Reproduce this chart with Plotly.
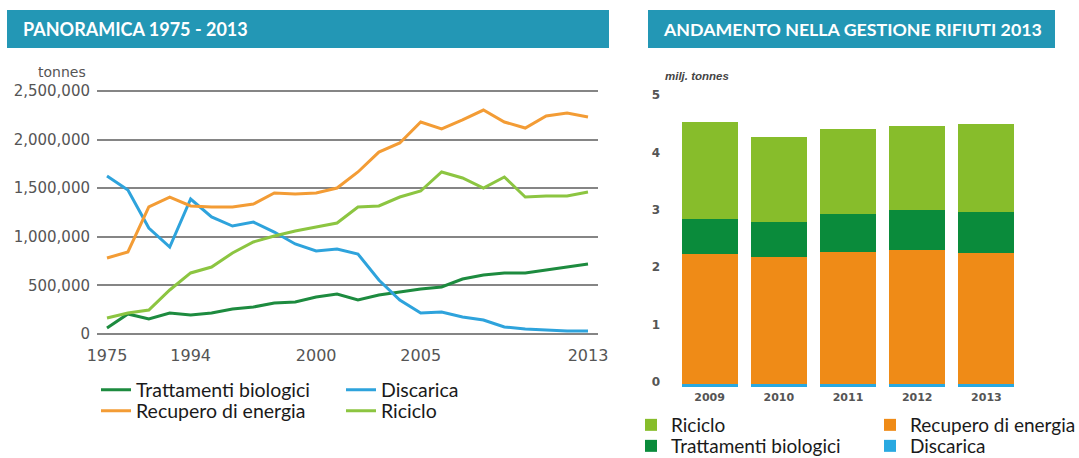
import plotly.graph_objects as go

W, H = 1079, 458

# ---------------- data: left chart (tonnes) ----------------
years = ["1975", "1980", "1985", "1990", "1994", "1995", "1996", "1997", "1998",
         "1999", "2000", "2001", "2002", "2003", "2004", "2005", "2006", "2007",
         "2008", "2009", "2010", "2011", "2012", "2013"]
year_ticks = ["1975", "1994", "2000", "2005", "2013"]

trattamenti = [62000, 206000, 154000, 216000, 195000, 216000, 257000, 278000, 319000,
               329000, 381000, 411000, 350000, 401000, 432000, 463000, 484000, 566000,
               607000, 628000, 628000, 658000, 689000, 720000]
discarica = [1625000, 1481000, 1090000, 895000, 1389000, 1204000, 1111000, 1152000, 1049000,
             926000, 854000, 874000, 823000, 556000, 350000, 216000, 226000, 175000,
             144000, 72000, 51000, 41000, 31000, 31000]
recupero = [782000, 844000, 1307000, 1409000, 1317000, 1307000, 1307000, 1337000, 1451000,
            1440000, 1451000, 1502000, 1667000, 1872000, 1965000, 2181000, 2109000, 2202000,
            2304000, 2181000, 2119000, 2243000, 2274000, 2232000]
riciclo = [165000, 216000, 247000, 453000, 628000, 689000, 833000, 947000, 1008000,
           1060000, 1101000, 1142000, 1307000, 1317000, 1409000, 1471000, 1667000, 1605000,
           1502000, 1615000, 1409000, 1420000, 1420000, 1461000]
left_yticks = [0, 500000, 1000000, 1500000, 2000000, 2500000]

# ---------------- data: right chart (milj. tonnes) ----------------
bar_years = ["2009", "2010", "2011", "2012", "2013"]
bar_discarica = [0.06, 0.06, 0.06, 0.06, 0.06]
bar_recupero = [2.25, 2.20, 2.29, 2.33, 2.27]
bar_trattamenti = [0.62, 0.61, 0.66, 0.69, 0.72]
bar_riciclo = [1.68, 1.49, 1.48, 1.47, 1.53]
right_yticks = [0, 1, 2, 3, 4, 5]

# colours
C_DG_LINE, C_BL_LINE, C_OR_LINE, C_LG_LINE = "#1d8b3f", "#2ea3dc", "#f39c35", "#8cc541"
C_DG_BAR, C_BL_BAR, C_OR_BAR, C_LG_BAR = "#0a8b3b", "#29a9e1", "#ef8b17", "#87bd2b"
TEAL = "#2397b5"

fig = go.Figure()

# ---- left lines ----
for name, vals, col, leg in [
    ("Trattamenti biologici", trattamenti, C_DG_LINE, "legend"),
    ("Discarica", discarica, C_BL_LINE, "legend"),
    ("Recupero di energia", recupero, C_OR_LINE, "legend2"),
    ("Riciclo", riciclo, C_LG_LINE, "legend2"),
]:
    fig.add_trace(go.Scatter(x=years, y=vals, name=name, mode="lines",
                             line=dict(color=col, width=3), xaxis="x", yaxis="y",
                             legend=leg, hoverinfo="x+y+name"))

# ---- right stacked bars ----
for name, vals, col, leg, rank in [
    ("Discarica", bar_discarica, C_BL_BAR, "legend4", 2),
    ("Recupero di energia", bar_recupero, C_OR_BAR, "legend3", 2),
    ("Trattamenti biologici", bar_trattamenti, C_DG_BAR, "legend4", 1),
    ("Riciclo", bar_riciclo, C_LG_BAR, "legend3", 1),
]:
    fig.add_trace(go.Bar(x=bar_years, y=vals, name=name, marker=dict(color=col, line=dict(width=0)),
                         xaxis="x2", yaxis="y2", legend=leg, legendrank=rank))

def leg(xpx, ypx, ew, size):
    return dict(orientation="h", x=xpx / W, y=1 - ypx / H, xanchor="left", yanchor="middle",
                entrywidth=ew, entrywidthmode="pixels",
                font=dict(family="Lato", size=size, color="#1a1a1a"),
                bgcolor="rgba(0,0,0,0)", traceorder="normal", borderwidth=0)

fig.update_layout(
    width=W, height=H, margin=dict(l=0, r=0, t=0, b=0, autoexpand=False),
    paper_bgcolor="white", plot_bgcolor="white",
    barmode="stack", bargap=0.19,
    showlegend=True,
    legend=leg(96, 390, 200, 19.5),
    legend2=leg(96, 411, 200, 19.5),
    legend3=leg(631, 425, 194, 19),
    legend4=leg(631, 446, 194, 19),
    xaxis=dict(domain=[97 / W, 598 / W], type="category", range=[-0.478, 23.478],
               tickmode="array", tickvals=year_ticks, ticktext=year_ticks,
               showgrid=False, zeroline=False, showline=False, ticks="",
               tickfont=dict(family="DejaVu Sans", size=16, color="#555555"),
               ticklabelstandoff=4, fixedrange=True, automargin=False),
    yaxis=dict(domain=[1 - 340 / H, 1 - 85 / H], range=[-61700, 2561700],
               tickmode="array", tickvals=left_yticks, tickformat=",",
               showgrid=True, gridcolor="#858585", gridwidth=2, zeroline=False,
               showline=False, ticks="",
               tickfont=dict(family="DejaVu Sans", size=15, color="#555555"),
               ticklabelstandoff=6, fixedrange=True, automargin=False),
    xaxis2=dict(domain=[675 / W, 1021 / W], anchor="y2", type="category",
                showgrid=False, zeroline=False, showline=False, ticks="",
                tickfont=dict(family="DejaVu Sans", size=11, color="#555555", weight="bold"),
                ticklabelstandoff=2, fixedrange=True, automargin=False),
    yaxis2=dict(domain=[1 - 387 / H, 1 - 88.5 / H], anchor="x2", range=[0, 5.2],
                tickmode="array", tickvals=right_yticks,
                showgrid=False, zeroline=False, showline=False, ticks="",
                tickfont=dict(family="DejaVu Sans", size=12, color="#555555", weight="bold"),
                ticklabelstandoff=14, ticklabelshift=-5, fixedrange=True, automargin=False),
    shapes=[
        dict(type="rect", xref="paper", yref="paper", x0=7 / W, x1=609 / W,
             y0=1 - 48 / H, y1=1 - 10 / H, fillcolor=TEAL, line=dict(width=0), layer="below"),
        dict(type="rect", xref="paper", yref="paper", x0=648 / W, x1=1055 / W,
             y0=1 - 48 / H, y1=1 - 10 / H, fillcolor=TEAL, line=dict(width=0), layer="below"),
    ],
    annotations=[
        dict(text="<b>PANORAMICA 1975 - 2013</b>", xref="paper", yref="paper",
             x=21 / W, y=1 - 29 / H, xanchor="left", yanchor="middle", showarrow=False,
             font=dict(family="Lato", size=18, color="white")),
        dict(text="<b>ANDAMENTO NELLA GESTIONE RIFIUTI 2013</b>", xref="paper", yref="paper",
             x=661 / W, y=1 - 29 / H, xanchor="left", yanchor="middle", showarrow=False,
             font=dict(family="Lato", size=17.8, color="white")),
        dict(text="tonnes", xref="paper", yref="paper", x=88 / W, y=1 - 72 / H,
             xanchor="right", yanchor="middle", showarrow=False,
             font=dict(family="DejaVu Sans", size=14, color="#555555")),
        dict(text="<b><i>milj. tonnes</i></b>", xref="paper", yref="paper", x=663 / W, y=1 - 76 / H,
             xanchor="left", yanchor="middle", showarrow=False,
             font=dict(family="Liberation Sans", size=11.5, color="#444444")),
    ],
)

fig.write_html("out.html",
               config={"displayModeBar": False},
               post_script="document.body.style.margin='0px';document.body.style.overflow='hidden';")
